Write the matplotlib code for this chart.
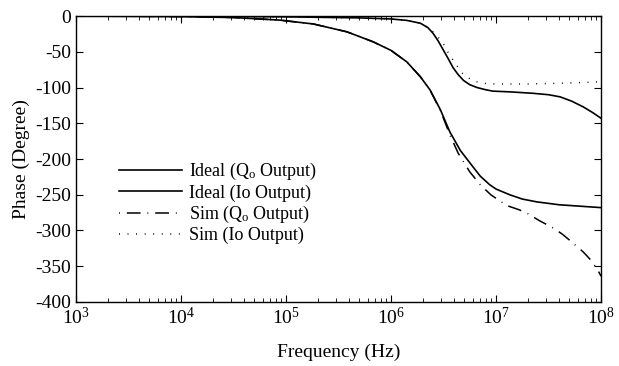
import matplotlib
matplotlib.use("Agg")
import matplotlib.pyplot as plt
import numpy as np

plt.rcParams['font.family'] = ['Liberation Serif', 'DejaVu Serif']
plt.rcParams['mathtext.fontset'] = 'custom'
plt.rcParams['mathtext.rm'] = 'Liberation Serif'
plt.rcParams['mathtext.it'] = 'Liberation Serif:italic'
plt.rcParams['axes.unicode_minus'] = False

# frequency given as log10(Hz), phase in degree
logf_ideal_qo = [3.0, 3.5, 4.0, 4.5, 4.94, 5.26, 5.58, 5.83, 6.0, 6.15, 6.28, 6.37,
                 6.47, 6.56, 6.66, 6.77, 6.85, 6.94, 7.0, 7.13, 7.25, 7.39, 7.6,
                 7.8, 8.0]
ideal_qo = [-0.1, -0.3, -0.7, -2, -5.6, -11, -22, -36, -48, -64, -85, -103,
            -131, -162, -188, -209, -224, -236, -242, -250, -256, -260, -264,
            -266, -268]

logf_sim_qo = [3.0, 3.5, 4.0, 4.5, 4.94, 5.26, 5.58, 5.83, 6.0, 6.15, 6.28, 6.37,
               6.47, 6.56, 6.64, 6.75, 6.85, 6.95, 7.0, 7.1, 7.22, 7.31, 7.41,
               7.55, 7.63, 7.72, 7.83, 7.9, 7.96, 8.0]
sim_qo = [-0.1, -0.3, -0.7, -2, -5.6, -11, -22, -36, -48, -64, -85, -103,
          -132, -166, -192, -218, -236, -250, -255, -265, -271, -277, -286,
          -297, -305, -316, -330, -341, -353, -364]

logf_ideal_io = [3.0, 4.0, 5.0, 5.7, 6.0, 6.15, 6.28, 6.35, 6.4, 6.45, 6.5, 6.55,
                 6.59, 6.64, 6.69, 6.75, 6.82, 6.9, 6.97, 7.13, 7.35, 7.5, 7.61,
                 7.72, 7.83, 7.92, 8.0]
ideal_io = [0, -0.2, -1, -2.5, -4, -6, -10, -16, -24, -35, -48, -61, -72, -82,
            -90, -96, -100, -103, -105, -106, -108, -110, -113, -119, -127,
            -135, -143]

logf_sim_io = [3.0, 4.0, 5.0, 5.7, 6.0, 6.15, 6.28, 6.35, 6.4, 6.45, 6.5, 6.54,
               6.61, 6.68, 6.77, 6.87, 7.0, 7.3, 7.6, 8.0]
sim_io = [0, -0.2, -1, -2.5, -4, -6, -10, -16, -22, -30, -39, -50, -66, -80,
          -90, -94, -95, -95, -94, -92]

labels = ['Ideal (Q$_\\mathrm{o}$ Output)', 'Ideal (Io Output)',
          'Sim (Q$_\\mathrm{o}$ Output)', 'Sim (Io Output)']

fig = plt.figure(figsize=(6.19, 3.66), dpi=100)
ax = fig.add_axes([0.1228, 0.175, 0.971 - 0.1228, 0.956 - 0.175])

ax.plot(10 ** np.array(logf_ideal_qo), ideal_qo, color='black', lw=1.2, label=labels[0])
ax.plot(10 ** np.array(logf_ideal_io), ideal_io, color='black', lw=1.2, label=labels[1])
ax.plot(10 ** np.array(logf_sim_qo), sim_qo, color='black', lw=1.1,
        linestyle=(0, (0.6, 4.5, 9, 4.5)), label=labels[2])
ax.plot(10 ** np.array(logf_sim_io), sim_io, color='black', lw=1.1,
        linestyle=(0, (0.6, 5)), label=labels[3])

ax.set_xscale('log')
ax.set_xlim(1e3, 1e8)
ax.set_ylim(-400, 0)
ax.set_yticks(range(-400, 1, 50))
ax.tick_params(which='both', direction='in', top=True, right=True, labelsize=14)
ax.tick_params(which='major', length=5)
ax.tick_params(which='minor', length=3)
for s in ax.spines.values():
    s.set_linewidth(1.0)

ax.set_xlabel('Frequency (Hz)', fontsize=14, labelpad=11)
ax.set_ylabel('Phase (Degree)', fontsize=14, labelpad=4)

ax.legend(loc='upper left', bbox_to_anchor=(0.068, 0.518), frameon=False, fontsize=13,
          handlelength=3.5, handletextpad=0.4, labelspacing=0.12, borderaxespad=0)

fig.savefig('out.png', dpi=100)
